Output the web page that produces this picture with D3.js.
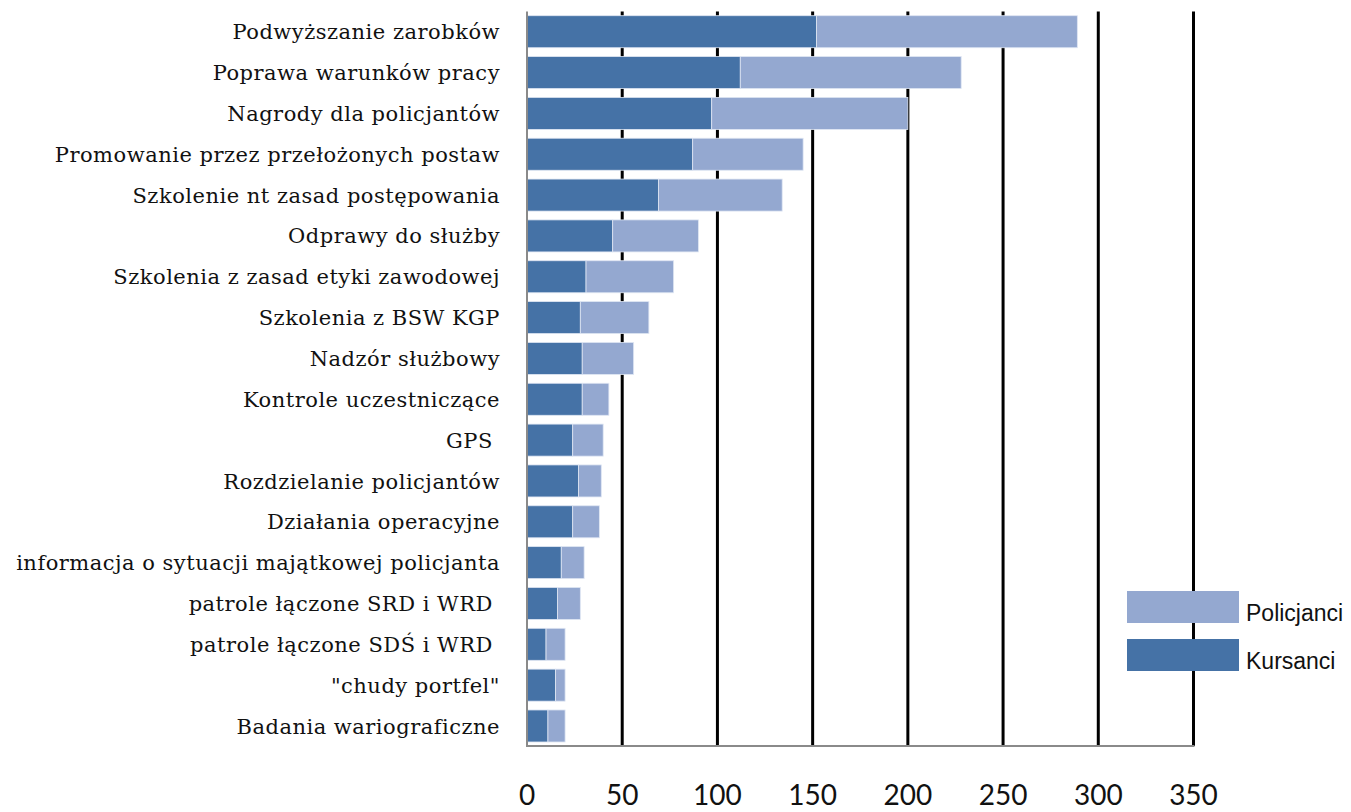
<!DOCTYPE html>
<html>
<head>
<meta charset="utf-8">
<script src="https://cdn.jsdelivr.net/npm/d3@7"></script>
<style>
  html, body { margin: 0; padding: 0; background: #fff; }
  svg { display: block; }
</style>
</head>
<body>
<svg id="chart" width="1351" height="812"></svg>
<script>
// Categories, top to bottom
const categories = [
  "Podwyższanie zarobków",
  "Poprawa warunków pracy",
  "Nagrody dla policjantów",
  "Promowanie przez przełożonych postaw",
  "Szkolenie nt zasad postępowania",
  "Odprawy do służby",
  "Szkolenia z zasad etyki zawodowej",
  "Szkolenia z BSW KGP",
  "Nadzór służbowy",
  "Kontrole uczestniczące",
  "GPS ",
  "Rozdzielanie policjantów",
  "Działania operacyjne",
  "informacja o sytuacji majątkowej policjanta",
  "patrole łączone SRD i WRD ",
  "patrole łączone SDŚ i WRD ",
  "\"chudy portfel\"",
  "Badania wariograficzne"
];
const kursanci   = [152, 112, 97, 87, 69, 45, 31, 28, 29, 29, 24, 27, 24, 18, 16, 10, 15, 11];
const policjanci = [137, 116, 103, 58, 65, 45, 46, 36, 27, 14, 16, 12, 14, 12, 12, 10, 5, 9];
const xTicks = [0, 50, 100, 150, 200, 250, 300, 350];
const seriesNames = ["Kursanci", "Policjanci"];
const seriesColors = ["#4572A6", "#94A8D0"];

const svg = d3.select("#chart");

const x = d3.scaleLinear().domain([0, 350]).range([527, 1193.5]);
const y = d3.scaleBand().domain(categories).range([11.3, 746.4]).paddingInner(0.216).paddingOuter(0.108);

const rows = categories.map((c, i) => ({ cat: c, Kursanci: kursanci[i], Policjanci: policjanci[i] }));
const stacked = d3.stack().keys(seriesNames)(rows);

// vertical grid lines
svg.append("g").selectAll("line")
  .data(xTicks.filter(d => d > 0))
  .join("line")
  .attr("x1", d => x(d)).attr("x2", d => x(d))
  .attr("y1", 11.5).attr("y2", 746)
  .attr("stroke", "#000").attr("stroke-width", 3);

// stacked bars
svg.append("g").selectAll("g")
  .data(stacked)
  .join("g")
  .attr("fill", (d, i) => seriesColors[i])
  .selectAll("rect")
  .data(d => d)
  .join("rect")
  .attr("x", d => x(d[0]))
  .attr("y", d => y(d.data.cat))
  .attr("width", d => x(d[1]) - x(d[0]))
  .attr("height", y.bandwidth())
  .attr("stroke", "#dfe6f3")
  .attr("stroke-width", 0.8);

// axis lines
svg.append("line")
  .attr("x1", x(0)).attr("x2", x(0)).attr("y1", 11.5).attr("y2", 747)
  .attr("stroke", "#8a8a8a").attr("stroke-width", 2);
svg.append("line")
  .attr("x1", x(0) - 1).attr("x2", x(350) + 1).attr("y1", 746).attr("y2", 746)
  .attr("stroke", "#8a8a8a").attr("stroke-width", 2);

// category labels
svg.append("g").selectAll("text")
  .data(categories)
  .join("text")
  .attr("x", 500)
  .attr("y", d => y(d) + y.bandwidth() / 2)
  .attr("dy", "0.36em")
  .attr("text-anchor", "end")
  .attr("font-family", "'DejaVu Serif', 'Liberation Serif', serif")
  .attr("font-size", 21)
  .attr("letter-spacing", 0.5)
  .attr("fill", "#111")
  .attr("xml:space", "preserve")
  .text(d => d);

// x tick labels
svg.append("g").selectAll("text")
  .data(xTicks)
  .join("text")
  .attr("x", d => x(d))
  .attr("y", 805)
  .attr("text-anchor", "middle")
  .attr("font-family", "Lato, 'Liberation Sans', sans-serif")
  .attr("font-size", 28)
  .attr("fill", "#111")
  .text(d => d);

// legend
const legendItems = [
  { name: "Policjanci", color: seriesColors[1], y: 591 },
  { name: "Kursanci", color: seriesColors[0], y: 639 }
];
const lg = svg.append("g").selectAll("g").data(legendItems).join("g");
lg.append("rect")
  .attr("x", 1127).attr("y", d => d.y)
  .attr("width", 112).attr("height", 32)
  .attr("fill", d => d.color);
lg.append("text")
  .attr("x", 1246).attr("y", d => d.y + 30)
  .attr("font-family", "'Liberation Sans', Arial, sans-serif")
  .attr("font-size", 23)
  .attr("fill", "#111")
  .text(d => d.name);
</script>
</body>
</html>
